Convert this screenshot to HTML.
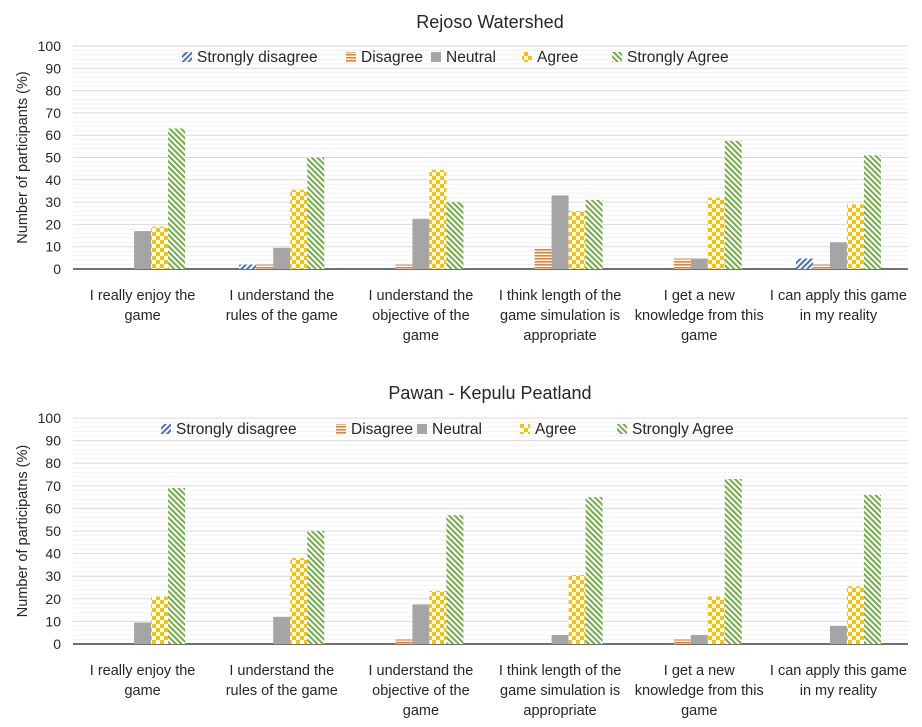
<!DOCTYPE html>
<html><head><meta charset="utf-8">
<style>
body{margin:0;background:#fff;font-family:"Liberation Sans",Calibri,sans-serif;}
svg text{font-family:"Liberation Sans",sans-serif;fill:#262626;}
</style></head>
<body>
<svg id="c" width="922" height="722" xmlns="http://www.w3.org/2000/svg">
<defs>
<pattern id="pSD" width="4" height="4" patternUnits="userSpaceOnUse" patternTransform="rotate(45)"><rect width="4" height="4" fill="#fff"/><rect width="2" height="4" fill="#4472c4"/></pattern>
<pattern id="pD" width="4" height="3" patternUnits="userSpaceOnUse"><rect width="4" height="3" fill="#fff"/><rect width="4" height="1.6" fill="#ed7d31"/></pattern>
<pattern id="pA" width="8" height="8" patternUnits="userSpaceOnUse"><rect width="8" height="8" fill="#fff"/><rect width="4" height="4" fill="#ffc000"/><rect x="4" y="4" width="4" height="4" fill="#ffc000"/></pattern>
<pattern id="pSA" width="4" height="4" patternUnits="userSpaceOnUse" patternTransform="rotate(-45)"><rect width="4" height="4" fill="#fff"/><rect width="2" height="4" fill="#70ad47"/></pattern>
</defs>
</svg>
<script>
const categories=[["I really enjoy the","game"],["I understand the","rules of the game"],["I understand the","objective of the","game"],["I think length of the","game simulation is","appropriate"],["I get a new","knowledge from this","game"],["I can apply this game","in my reality"]];
const seriesNames=["Strongly disagree","Disagree","Neutral","Agree","Strongly Agree"];
const yTicks=[0,10,20,30,40,50,60,70,80,90,100];
const rejosoSD=[0,2,0,0,0,4.7];
const rejosoD=[0,2,2,9,4.7,2];
const rejosoN=[17,9.5,22.5,33,4.7,12];
const rejosoA=[19,35.5,44.5,26,32,29];
const rejosoSA=[63,50,30,31,57.5,51];
const pawanSD=[0,0,0,0,0,0];
const pawanD=[0,0,2,0,2,0];
const pawanN=[9.5,12,17.5,4,4,8];
const pawanA=[21,38,23.5,30.5,21,25.5];
const pawanSA=[69,50,57,65,73,66];

const fills=["url(#pSD)","url(#pD)","#a5a5a5","url(#pA)","url(#pSA)"];
const svg=document.getElementById('c');
const NS="http://www.w3.org/2000/svg";
function mk(tag,attrs,parent){const e=document.createElementNS(NS,tag);for(const k in attrs)e.setAttribute(k,attrs[k]);(parent||svg).appendChild(e);return e;}

function chart(opt){
  const g=mk('g',{});
  
  
  const x0=73,x1=908,y0=opt.y0,y100=opt.y100;
  const ys=v=>y0-(y0-y100)*v/100;
  const cw=(x1-x0)/categories.length,bw=17;
  for(let v=0;v<=100;v+=2){
    const l=mk('line',{x1:x0,x2:x1,y1:ys(v),y2:ys(v),stroke:v%10==0?'#d9d9d9':'#f2f2f2','stroke-width':1},g);
    
    
  }
  yTicks.forEach(v=>{
    const t=mk('text',{x:x0-12,y:ys(v)+5,'text-anchor':'end','font-size':14},g);
    t.textContent=v;
    
    
  });
  const ax=mk('line',{x1:x0,x2:x1,y1:y0,y2:y0,stroke:'#404040','stroke-width':1.5},g);
  
  
  opt.series.forEach((arr,s)=>{
    arr.forEach((v,i)=>{
      if(v<=0)return;
      const cx=x0+cw*(i+0.5);
      const bx=cx-2.5*bw+s*bw;
      const r=mk('rect',{x:bx,y:ys(v),width:bw,height:y0-ys(v),fill:fills[s]},g);
      
      
    });
  });
  categories.forEach((lines,i)=>{
    const cx=x0+cw*(i+0.5);
    lines.forEach((ln,j)=>{
      const t=mk('text',{x:cx,y:y0+31+j*20,'text-anchor':'middle','font-size':14.5},g);
      t.textContent=ln;
      
      
    });
  });
  const tt=mk('text',{x:490,y:opt.titleY,'text-anchor':'middle','font-size':18},g);
  tt.textContent=opt.title;
  
  
  const yt=mk('text',{x:0,y:0,'text-anchor':'middle','font-size':14.5,transform:`translate(27,${(y0+y100)/2}) rotate(-90)`},g);
  yt.textContent=opt.ytitle;
  
  
  opt.legend.forEach((lx,s)=>{
    const ly=y100+12;
    const sw=mk('rect',{x:lx,y:ly-6,width:10,height:10,fill:fills[s]},g);
    
    
    const t=mk('text',{x:lx+15,y:ly+4,'font-size':15.5},g);
    t.textContent=seriesNames[s];
    
    
  });
}
chart({name:'rejoso-chart',title:'Rejoso Watershed',titleY:28,y0:269,y100:46,ytitle:'Number of participants (%)',series:[rejosoSD,rejosoD,rejosoN,rejosoA,rejosoSA],legend:[182,346,431,522,612]});
chart({name:'pawan-chart',title:'Pawan - Kepulu Peatland',titleY:399,y0:644,y100:418,ytitle:'Number of participatns (%)',series:[pawanSD,pawanD,pawanN,pawanA,pawanSA],legend:[161,336,417,520,617]});
</script>
</body></html>
